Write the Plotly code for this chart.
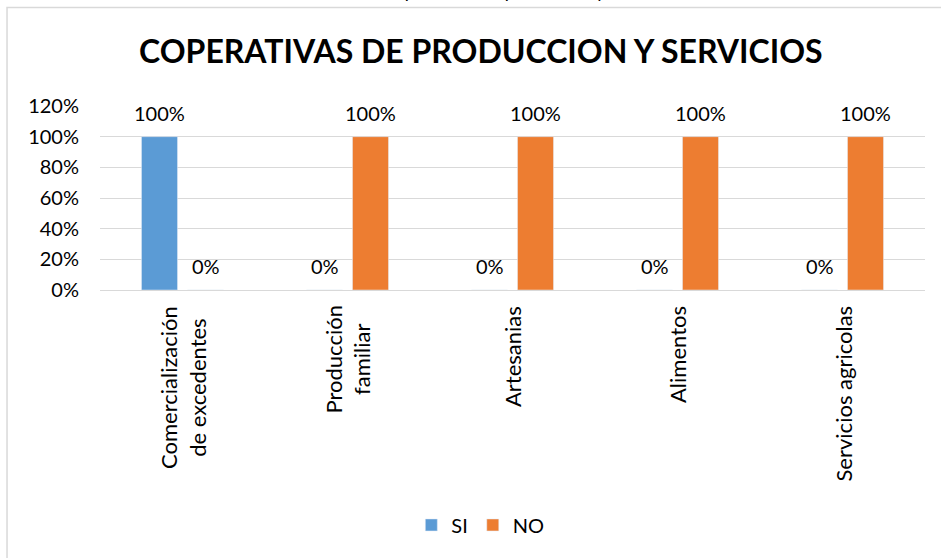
import plotly.graph_objects as go

# Cooperative types and the share answering SI / NO
categories = [
    "Comercialización<br>de excedentes",
    "Producción<br>familiar",
    "Artesanias",
    "Alimentos",
    "Servicios agricolas",
]
si_values = [100, 0, 0, 0, 0]
no_values = [0, 100, 100, 100, 100]
y_ticks = [0, 20, 40, 60, 80, 100, 120]

FONT = "Lato, Carlito, Calibri, sans-serif"
BLUE = "#5b9bd5"
ORANGE = "#ed7d31"
GRID = "#d9d9d9"

fig = go.Figure()
fig.add_trace(go.Bar(x=categories, y=si_values, name="SI", marker_color=BLUE))
fig.add_trace(go.Bar(x=categories, y=no_values, name="NO", marker_color=ORANGE))

# value labels above each bar (including the zero-height ones)
annotations = []
for series, shift in ((si_values, -23), (no_values, 23)):
    for cat, v in zip(categories, series):
        annotations.append(dict(
            x=cat, y=v, xref="x", yref="y", text=f"{v}%", showarrow=False,
            xshift=shift, yshift=24, yanchor="middle",
            font=dict(family=FONT, size=20, color="#000000"),
        ))

# vertical category labels, multi-line ones centred on each other
for cat in categories:
    annotations.append(dict(
        x=cat, y=0, xref="x", yref="y", text=cat, showarrow=False,
        textangle=-90, align="center", xanchor="center", yanchor="top",
        xshift=0, yshift=-14,
        font=dict(family=FONT, size=22, color="#000000"),
    ))

# caption of the figure above the chart frame
annotations.append(dict(
    xref="paper", yref="paper", x=0.46, y=1.555, yanchor="bottom",
    text="<i>Gráfico 12: Cooperativas de producción y servicios</i>",
    showarrow=False, font=dict(family=FONT, size=19, color="#000000"),
))

fig.update_layout(
    width=941, height=558,
    margin=dict(l=100, r=16, t=106, b=268, pad=0),
    paper_bgcolor="white", plot_bgcolor="white",
    barmode="group", bargap=0.4424, bargroupgap=0.217,
    title=dict(
        text="<b>COPERATIVAS DE PRODUCCION Y SERVICIOS</b>",
        x=0.511, xref="container", xanchor="center",
        y=1 - 52 / 558, yref="container", yanchor="middle",
        font=dict(family=FONT, size=32, color="#000000"),
    ),
    font=dict(family=FONT, size=20, color="#000000"),
    showlegend=True,
    legend=dict(
        orientation="h", x=0.461, xanchor="center", y=-1.277, yanchor="middle",
        font=dict(family=FONT, size=20, color="#000000"),
        itemwidth=30, tracegroupgap=0,
    ),
    annotations=annotations,
    shapes=[dict(
        type="rect", xref="paper", yref="paper",
        x0=-0.1127, x1=1.04, y0=-1.6, y1=1.535,
        line=dict(color=GRID, width=1.5), fillcolor="rgba(0,0,0,0)", layer="below",
    )],
)

fig.update_xaxes(
    showticklabels=False, showgrid=False, showline=False, ticks="",
)
fig.update_yaxes(
    range=[0, 120], tickvals=y_ticks, ticktext=[f"{t}%" for t in y_ticks],
    showgrid=True, gridcolor=GRID, gridwidth=1,
    zeroline=True, zerolinecolor=GRID, zerolinewidth=1,
    showline=False, ticks="",
    tickfont=dict(family=FONT, size=20, color="#000000"),
    ticklabelstandoff=20,
)

fig.write_html("out.html")
